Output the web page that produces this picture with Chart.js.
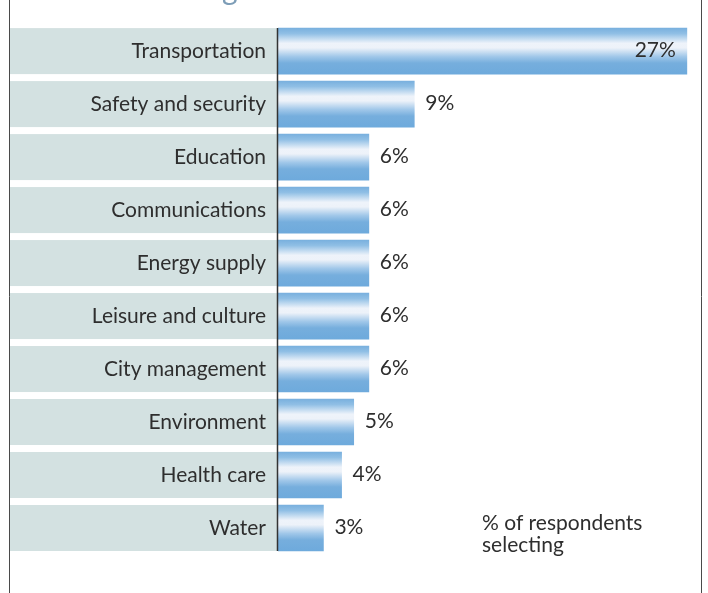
<!DOCTYPE html>
<html>
<head>
<meta charset="utf-8">
<script src="https://cdn.jsdelivr.net/npm/chart.js@4/dist/chart.umd.min.js"></script>
<style>
  html, body { margin: 0; padding: 0; background: #fff; }
  #wrap { width: 708px; height: 593px; position: relative; }
</style>
</head>
<body>
<div id="wrap"><canvas id="grafico"></canvas></div>
<script>
// Datos
const categorias = ['Transportation', 'Safety and security', 'Education', 'Communications',
  'Energy supply', 'Leisure and culture', 'City management', 'Environment', 'Health care', 'Water'];
const valores = [27, 9, 6, 6, 6, 6, 6, 5, 4.2, 3];
const etiquetas = ['27%', '9%', '6%', '6%', '6%', '6%', '6%', '5%', '4%', '3%'];
const nota = ['% of respondents', 'selecting'];

const FUENTE = 'Lato, "Open Sans", sans-serif';
const TXT = '#2e2e2e';
const GRIS = '#d3e1e1';
const GROSOR = 46;

// degradado vertical de cada barra
function degradado(ctx) {
  const chart = ctx.chart;
  const y = chart.scales.y;
  if (!y || ctx.dataIndex === undefined) return '#76aedd';
  const c = y.getPixelForValue(ctx.dataIndex);
  if (!isFinite(c)) return '#76aedd';
  const g = chart.ctx.createLinearGradient(0, c - GROSOR / 2, 0, c + GROSOR / 2);
  g.addColorStop(0, '#79b0de');
  g.addColorStop(0.12, '#90bfe5');
  g.addColorStop(0.33, '#eef3fa');
  g.addColorStop(0.43, '#edf2f9');
  g.addColorStop(0.62, '#a0c7e9');
  g.addColorStop(0.76, '#76aedd');
  g.addColorStop(1, '#6eaadc');
  return g;
}

const decorado = {
  id: 'decorado',
  beforeDraw(chart) {
    const { ctx, chartArea, scales } = chart;
    ctx.save();
    // marco izquierdo y derecho
    ctx.strokeStyle = '#4a4a4a';
    ctx.lineWidth = 1;
    ctx.beginPath();
    ctx.moveTo(9.5, 0); ctx.lineTo(9.5, chart.height);
    ctx.moveTo(701.5, 0); ctx.lineTo(701.5, chart.height);
    ctx.stroke();
    // titulo cortado arriba
    ctx.fillStyle = '#7d9db7';
    ctx.font = '30px ' + FUENTE;
    ctx.textBaseline = 'alphabetic';
    ctx.textAlign = 'left';
    ctx.fillText('g', 222, 0);
    // cajas grises de las categorias
    ctx.fillStyle = GRIS;
    categorias.forEach((c, i) => {
      const yc = scales.y.getPixelForValue(i);
      ctx.fillRect(10, yc - GROSOR / 2, chartArea.left - 10, GROSOR);
    });
    ctx.restore();
  },
  afterDatasetsDraw(chart) {
    const { ctx, chartArea, scales } = chart;
    const meta = chart.getDatasetMeta(0);
    ctx.save();
    // eje vertical
    const top = scales.y.getPixelForValue(0) - GROSOR / 2;
    const bot = scales.y.getPixelForValue(categorias.length - 1) + GROSOR / 2;
    ctx.strokeStyle = '#333';
    ctx.lineWidth = 1.5;
    ctx.beginPath();
    ctx.moveTo(chartArea.left - 0.5, top);
    ctx.lineTo(chartArea.left - 0.5, bot);
    ctx.stroke();
    // valores
    ctx.fillStyle = TXT;
    ctx.font = '21px ' + FUENTE;
    ctx.textBaseline = 'middle';
    meta.data.forEach((bar, i) => {
      const t = etiquetas[i];
      const w = ctx.measureText(t).width;
      if (bar.x + 11 + w > chartArea.right) {
        ctx.textAlign = 'right';
        ctx.fillText(t, bar.x - 11, bar.y - 1);
      } else {
        ctx.textAlign = 'left';
        ctx.fillText(t, bar.x + 11, bar.y - 1);
      }
    });
    // nota
    ctx.textAlign = 'left';
    ctx.textBaseline = 'alphabetic';
    ctx.fillText(nota[0], 482, 530);
    ctx.fillText(nota[1], 482, 551.5);
    ctx.restore();
  }
};

new Chart(document.getElementById('grafico'), {
  type: 'bar',
  data: {
    labels: categorias,
    datasets: [{
      data: valores,
      backgroundColor: degradado,
      barThickness: GROSOR,
      borderWidth: 0
    }]
  },
  options: {
    indexAxis: 'y',
    responsive: true,
    maintainAspectRatio: false,
    animation: false,
    layout: { padding: { left: 10, right: 6, top: 24.5, bottom: 38.5 } },
    plugins: { legend: { display: false }, tooltip: { enabled: false } },
    scales: {
      x: { display: false, min: 0, max: 28 },
      y: {
        afterFit(scale) { scale.width = 268; },
        grid: { display: false, drawTicks: false },
        border: { display: false },
        ticks: { color: TXT, font: { family: FUENTE, size: 21 }, padding: 12 }
      }
    }
  },
  plugins: [decorado]
});
</script>
</body>
</html>
